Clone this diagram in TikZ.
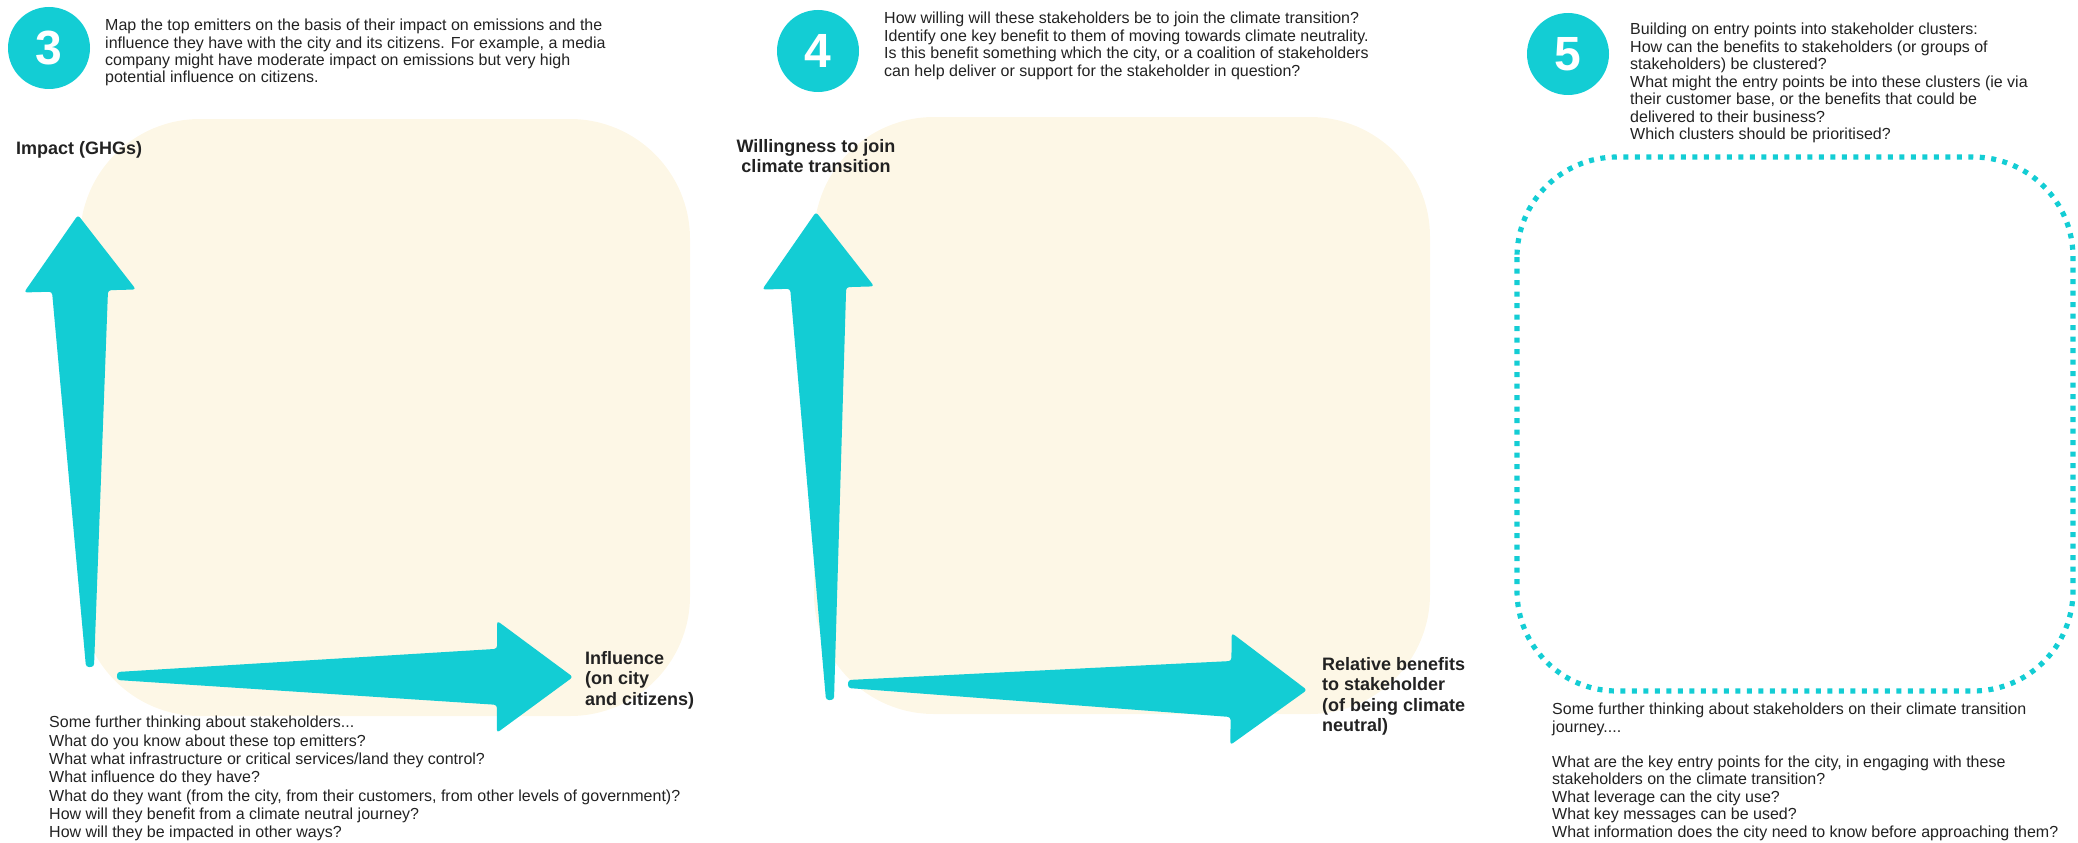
\documentclass[tikz,border=0pt]{standalone}
\usepackage{fontspec}
\setmainfont{Liberation Sans}
\usetikzlibrary{calc}

\definecolor{axisteal}{RGB}{19,205,212}
\definecolor{panelcream}{RGB}{253,247,230}
\definecolor{inkgrey}{RGB}{34,34,34}

\tikzset{
  qtext/.style={anchor=north west, align=left, inner sep=0pt, text=inkgrey,
    font=\fontsize{16}{17.5}\selectfont},
  axislabel/.style={anchor=north west, align=left, inner sep=0pt, text=inkgrey,
    font=\fontsize{18}{20.5}\selectfont\bfseries},
  badge/.style={circle, fill=axisteal, minimum size=82pt, inner sep=0pt, text=white,
    font=\fontsize{48}{48}\selectfont\bfseries},
  panel/.style={fill=panelcream, rounded corners=120pt},
  axisarrow/.style={fill=axisteal, rounded corners=3pt},
  clusterbox/.style={draw=axisteal, line width=5.2pt, dash pattern=on 5pt off 6.5pt,
    rounded corners=100pt},
}

% fat tapered arrow, from tail #1 to tip #2
\newcommand{\fatarrow}[2]{%
  \coordinate (hb) at ($(#2)!76pt!(#1)$);
  \fill[axisarrow] (#2) -- ($(hb)!56pt!90:(#1)$) -- ($(hb)!28pt!90:(#1)$)
    -- ($(#1)!4pt!-90:(#2)$) -- ($(#1)!4pt!90:(#2)$)
    -- ($(hb)!28pt!-90:(#1)$) -- ($(hb)!56pt!-90:(#1)$) -- cycle;}

\begin{document}
\begin{tikzpicture}[x=1pt, y=-1pt]
\useasboundingbox (0,0) rectangle (2078,843);

% step 3: impact / influence
\fill[panel] (80,119) rectangle (690,716);
\node[badge] (b3) at (49,48) {3};
\node[qtext, font=\fontsize{16}{17.3}\selectfont] (q3) at (105,19) {Map the top emitters on the basis of their impact on emissions and the\\
  influence they have with the city and its citizens. For example, a media\\
  company might have moderate impact on emissions but very high\\
  potential influence on citizens.};
\coordinate (v3tail) at (90,667);
\coordinate (v3tip) at (78,215);
\coordinate (h3tail) at (117,676);
\coordinate (h3tip) at (573,677);
\fatarrow{v3tail}{v3tip}
\fatarrow{h3tail}{h3tip}
\node[axislabel] (impact) at (16,141) {Impact (GHGs)};
\node[axislabel] (influence) at (585,651) {Influence\\(on city\\and citizens)};
\node[qtext, font=\fontsize{16}{18.3}\selectfont] (more3) at (49,716) {Some further thinking about stakeholders...\\
  What do you know about these top emitters?\\
  What what infrastructure or critical services/land they control?\\
  What influence do they have?\\
  What do they want (from the city, from their customers, from other levels of government)?\\
  How will they benefit from a climate neutral journey?\\
  How will they be impacted in other ways?};

% step 4: willingness / benefits
\fill[panel] (814,117) rectangle (1430,714);
\node[badge] (b4) at (818,51) {4};
\node[qtext] (q4) at (884,12) {How willing will these stakeholders be to join the climate transition?\\
  Identify one key benefit to them of moving towards climate neutrality.\\
  Is this benefit something which the city, or a coalition of stakeholders\\
  can help deliver or support for the stakeholder in question?};
\coordinate (v4tail) at (830,700);
\coordinate (v4tip) at (816,212);
\coordinate (h4tail) at (848,684);
\coordinate (h4tip) at (1307,690);
\fatarrow{v4tail}{v4tip}
\fatarrow{h4tail}{h4tip}
\node[axislabel, anchor=north, align=center] (willing) at (816,139) {Willingness to join\\climate transition};
\node[axislabel] (benefit) at (1322,657) {Relative benefits\\to stakeholder\\(of being climate\\neutral)};

% step 5: clusters
\draw[clusterbox] (1517,157) rectangle (2073,691);
\node[badge] (b5) at (1568,54) {5};
\node[qtext] (q5) at (1630,23) {Building on entry points into stakeholder clusters:\\
  How can the benefits to stakeholders (or groups of\\
  stakeholders) be clustered?\\
  What might the entry points be into these clusters (ie via\\
  their customer base, or the benefits that could be\\
  delivered to their business?\\
  Which clusters should be prioritised?};
\node[qtext] (more5) at (1552,703) {Some further thinking about stakeholders on their climate transition\\
  journey....\\[17.5pt]
  What are the key entry points for the city, in engaging with these\\
  stakeholders on the climate transition?\\
  What leverage can the city use?\\
  What key messages can be used?\\
  What information does the city need to know before approaching them?};
\end{tikzpicture}
\end{document}
